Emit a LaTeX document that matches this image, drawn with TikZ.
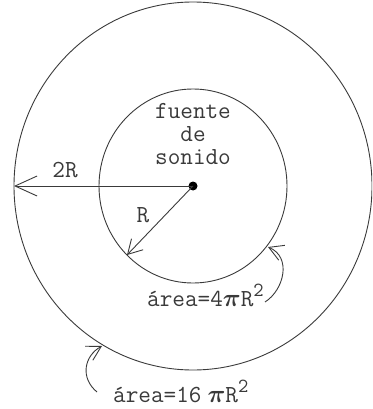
\documentclass[tikz,border=0pt]{standalone}
\usepackage{amsmath}
\usepackage{fontspec}
\usetikzlibrary{arrows.meta}
\definecolor{inkgray}{HTML}{3A3A3A}
\tikzset{
  wave/.style={draw=inkgray, line width=0.9pt},
  radius arrow/.style={draw=inkgray, line width=0.9pt, -{Straight Barb[length=22pt, width=20pt, line width=0.9pt]}},
  short arrow/.style={draw=inkgray, line width=0.9pt, -{Straight Barb[length=14pt, width=16pt, line width=0.9pt]}},
  label/.style={text=inkgray, font=\ttfamily\fontsize{24.5}{23}\selectfont, inner sep=0pt},
  area label/.style={label, anchor=base west}
}
\newcommand{\bpi}{$\boldsymbol{\pi}$}
\newcommand{\sqr}{\raisebox{10pt}{\fontsize{20}{20}\selectfont 2}}
\begin{document}
\begin{tikzpicture}[x=1pt, y=-1pt]
  \useasboundingbox (0,0) rectangle (372,409);
  \clip (0,0) rectangle (372,409);
  \coordinate (src) at (193,186);
  % the two spheres
  \draw[wave] (src) ellipse [x radius=179pt, y radius=184pt];
  \draw[wave] (src) ellipse [x radius=94pt, y radius=97pt];
  \fill[black] (src) circle (4.5pt);
  \node[label, align=center] (fuente) at (193,134) {fuente\\de\\sonido};
  % radii
  \coordinate (outer left) at (14,186);
  \coordinate (inner rim) at (127,255);
  \draw[radius arrow] (src) -- (outer left);
  \draw[short arrow] (src) -- (inner rim);
  \node[label] (twoR) at (65,170) {2R};
  \node[label] (oneR) at (143,215) {R};
  % areas
  \node[area label] (areaA) at (147,306) {área=4\bpi R\sqr};
  \node[area label] (areaB) at (113,402) {área=16\hspace{6pt}\bpi R\sqr};
  \coordinate (tailA) at (265,302);
  \coordinate (tipA) at (268,247);
  \coordinate (tailB) at (97,392);
  \coordinate (tipB) at (102,346);
  \draw[short arrow] (tailA) .. controls (284,290) and (292,257) .. (tipA);
  \draw[short arrow] (tailB) .. controls (80,378) and (84,356) .. (tipB);
\end{tikzpicture}
\end{document}
